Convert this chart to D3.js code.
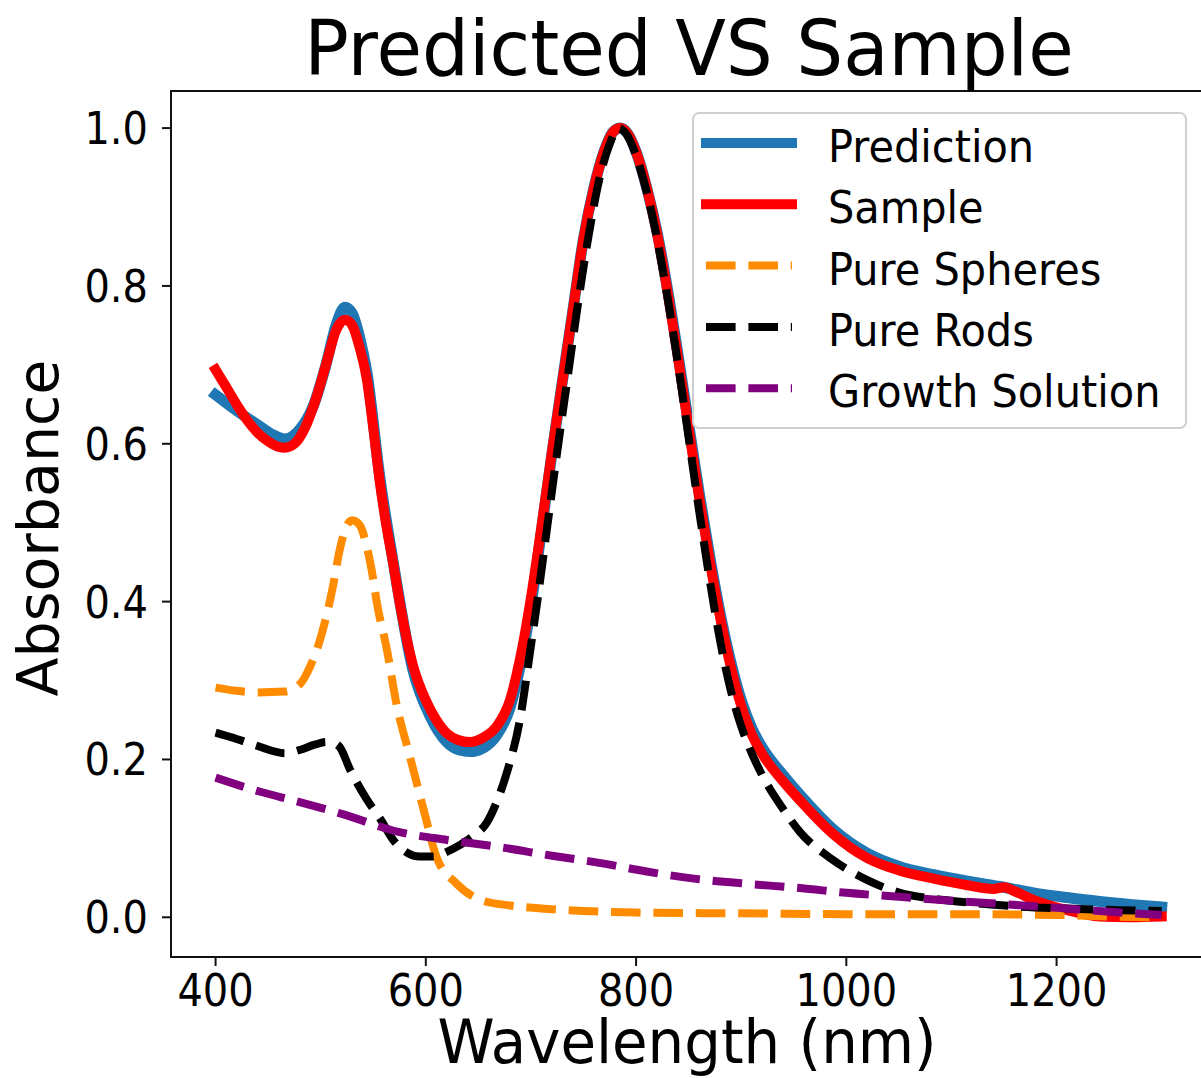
<!DOCTYPE html>
<html>
<head>
<meta charset="utf-8">
<script src="https://cdn.jsdelivr.net/npm/d3@7/dist/d3.min.js"></script>
<style>
  html, body { margin: 0; padding: 0; background: #fff; }
  svg { display: block; font-family: "DejaVu Sans", sans-serif; }
</style>
</head>
<body>
<svg id="chart" width="1201" height="1078"></svg>
<script>
// [wavelength nm, absorbance]
var prediction = [
  [400, 0.662], [420, 0.642], [440, 0.624], [455, 0.611], [466, 0.606], [480, 0.618],
  [493, 0.648], [505, 0.700], [515, 0.752], [523, 0.773], [530, 0.765], [537, 0.735],
  [544, 0.690], [556, 0.560], [569, 0.450], [588, 0.312], [604, 0.255], [620, 0.222],
  [632, 0.212], [642, 0.210], [655, 0.215], [668, 0.232], [680, 0.265], [690, 0.320],
  [700, 0.395], [710, 0.490], [720, 0.588], [730, 0.680], [740, 0.770], [750, 0.860],
  [760, 0.925], [770, 0.972], [778, 0.995], [785, 1.0], [792, 0.993], [800, 0.970],
  [810, 0.925], [820, 0.868], [830, 0.795], [840, 0.712], [850, 0.625], [860, 0.538],
  [870, 0.458], [880, 0.385], [890, 0.324], [900, 0.275], [910, 0.240], [920, 0.215],
  [940, 0.180], [956, 0.155], [987, 0.112], [1020, 0.081], [1051, 0.064], [1083, 0.054],
  [1114, 0.046], [1146, 0.039], [1178, 0.031], [1210, 0.025], [1241, 0.020], [1272, 0.016],
  [1300, 0.013]
];
var sample = [
  [400, 0.694], [410, 0.672], [420, 0.650], [430, 0.630], [440, 0.614], [450, 0.603],
  [460, 0.596], [466, 0.595], [475, 0.600], [485, 0.620], [495, 0.655], [505, 0.700],
  [515, 0.745], [523, 0.757], [530, 0.750], [537, 0.722], [544, 0.681], [550, 0.620],
  [556, 0.554], [562, 0.500], [569, 0.448], [575, 0.400], [588, 0.318], [600, 0.275],
  [610, 0.250], [620, 0.233], [630, 0.225], [642, 0.222], [655, 0.228], [668, 0.243],
  [680, 0.275], [690, 0.330], [700, 0.405], [710, 0.495], [720, 0.590], [730, 0.680],
  [740, 0.770], [750, 0.860], [760, 0.925], [770, 0.972], [778, 0.995], [785, 1.0],
  [792, 0.993], [800, 0.970], [810, 0.925], [820, 0.866], [830, 0.792], [840, 0.708],
  [850, 0.620], [860, 0.532], [870, 0.452], [880, 0.380], [890, 0.318], [900, 0.268],
  [910, 0.232], [920, 0.207], [940, 0.172], [956, 0.148], [987, 0.106], [1020, 0.075],
  [1051, 0.059], [1083, 0.049], [1114, 0.041], [1140, 0.036], [1150, 0.038], [1160, 0.033],
  [1178, 0.022], [1210, 0.009], [1241, 0.001], [1270, 0.0], [1300, 0.001]
];
var spheres = [
  [400, 0.291], [420, 0.287], [440, 0.285], [466, 0.286], [480, 0.295], [490, 0.318],
  [499, 0.350], [511, 0.415], [518, 0.465], [524, 0.494], [530, 0.503], [537, 0.497],
  [544, 0.469], [550, 0.428], [553, 0.402], [563, 0.339], [572, 0.271], [585, 0.203],
  [598, 0.136], [610, 0.077], [629, 0.043], [652, 0.022], [680, 0.015], [702, 0.012],
  [750, 0.008], [800, 0.006], [900, 0.005], [1000, 0.004], [1100, 0.004], [1200, 0.003],
  [1250, 0.001], [1300, 0.0]
];
var rods = [
  [400, 0.234], [420, 0.226], [440, 0.217], [466, 0.208], [480, 0.212], [495, 0.219],
  [505, 0.222], [512, 0.221], [518, 0.216], [528, 0.187], [544, 0.149], [557, 0.124],
  [569, 0.098], [582, 0.082], [594, 0.077], [607, 0.077], [620, 0.083], [633, 0.092],
  [645, 0.103], [658, 0.120], [668, 0.148], [677, 0.183], [690, 0.254], [699, 0.335],
  [706, 0.400], [715, 0.490], [725, 0.590], [735, 0.685], [745, 0.780], [755, 0.865],
  [765, 0.935], [775, 0.980], [783, 1.0], [792, 0.990], [800, 0.965], [810, 0.920],
  [820, 0.860], [830, 0.785], [840, 0.700], [850, 0.608], [860, 0.515], [870, 0.428],
  [880, 0.350], [890, 0.288], [900, 0.242], [910, 0.208], [920, 0.180], [940, 0.137],
  [956, 0.108], [987, 0.073], [1020, 0.047], [1051, 0.031], [1080, 0.024], [1114, 0.019],
  [1160, 0.014], [1210, 0.011], [1260, 0.009], [1300, 0.008]
];
var growth = [
  [400, 0.177], [440, 0.160], [480, 0.146], [520, 0.131], [575, 0.108], [620, 0.098],
  [670, 0.089], [720, 0.078], [765, 0.069], [810, 0.058], [861, 0.048], [910, 0.042],
  [956, 0.037], [1000, 0.031], [1050, 0.026], [1100, 0.021], [1146, 0.017], [1200, 0.012],
  [1250, 0.007], [1300, 0.003]
];
var xTicks = [400, 600, 800, 1000, 1200];
var yTicks = [0.0, 0.2, 0.4, 0.6, 0.8, 1.0];
var seriesNames = ['Prediction', 'Sample', 'Pure Spheres', 'Pure Rods', 'Growth Solution'];

(function () {
  'use strict';
  var svg = d3.select('#chart');
  var box = { left: 171, right: 1209, top: 91, bottom: 957 };

  var x = d3.scaleLinear().domain([357.6, 1345]).range([box.left, box.right]);
  var y = d3.scaleLinear().domain([-0.0503, 1.047]).range([box.bottom, box.top]);

  var dash = '29.6,12.8';
  var styles = [
    { data: prediction, color: '#1f77b4', width: 11, dash: null },
    { data: sample, color: '#ff0000', width: 10, dash: null },
    { data: spheres, color: '#ff8c00', width: 8, dash: dash },
    { data: rods, color: '#000000', width: 8, dash: dash },
    { data: growth, color: '#800080', width: 8, dash: dash }
  ];

  // text is a little taller than wide in the reference
  function stretchText(g, px, py, txt, size, k, anchor) {
    return g.append('text')
      .attr('transform', 'translate(' + px + ',' + py + ') scale(1,' + k + ')')
      .attr('text-anchor', anchor || 'middle')
      .attr('font-size', size)
      .attr('fill', '#000')
      .text(txt);
  }

  var line = d3.line()
    .x(function (d) { return x(d[0]); })
    .y(function (d) { return y(d[1]); })
    .curve(d3.curveMonotoneX);

  var plot = svg.append('g');
  styles.forEach(function (s) {
    plot.append('path')
      .attr('d', line(s.data))
      .attr('fill', 'none')
      .attr('stroke', s.color)
      .attr('stroke-width', s.width)
      .attr('stroke-linejoin', 'round')
      .attr('stroke-linecap', s.dash ? 'butt' : 'square')
      .attr('stroke-dasharray', s.dash);
  });

  // frame
  svg.append('rect')
    .attr('x', box.left).attr('y', box.top)
    .attr('width', box.right - box.left).attr('height', box.bottom - box.top)
    .attr('fill', 'none').attr('stroke', '#111').attr('stroke-width', 2);

  // y axis
  var yAxis = svg.append('g');
  yTicks.forEach(function (t) {
    yAxis.append('line')
      .attr('x1', box.left - 9).attr('x2', box.left)
      .attr('y1', y(t)).attr('y2', y(t))
      .attr('stroke', '#111').attr('stroke-width', 2);
    stretchText(yAxis, box.left - 23, y(t) + 16, d3.format('.1f')(t), 40, 1.1, 'end');
  });

  // x axis
  var xAxis = svg.append('g');
  xTicks.forEach(function (t) {
    xAxis.append('line')
      .attr('x1', x(t)).attr('x2', x(t))
      .attr('y1', box.bottom).attr('y2', box.bottom + 9)
      .attr('stroke', '#111').attr('stroke-width', 2);
    stretchText(xAxis, x(t), 1006, String(t), 40, 1.1);
  });

  stretchText(svg, 687, 1063, 'Wavelength (nm)', 57.8, 1.05);
  svg.append('text')
    .attr('transform', 'translate(58,' + ((box.top + box.bottom) / 2 + 4) + ') rotate(-90)')
    .attr('text-anchor', 'middle')
    .attr('font-size', 57)
    .text('Absorbance');
  stretchText(svg, 689, 75, 'Predicted VS Sample', 74, 1.03);

  // legend
  var legend = svg.append('g');
  legend.append('rect')
    .attr('x', 693).attr('y', 113).attr('width', 493).attr('height', 315)
    .attr('rx', 6)
    .attr('fill', '#fff').attr('fill-opacity', 0.8)
    .attr('stroke', '#d0d0d0').attr('stroke-width', 2);
  styles.forEach(function (s, i) {
    var ly = 143 + i * 61.3;
    legend.append('line')
      .attr('x1', 706).attr('x2', 792)
      .attr('y1', ly).attr('y2', ly)
      .attr('stroke', s.color)
      .attr('stroke-width', s.dash ? 8 : 10)
      .attr('stroke-linecap', s.dash ? 'butt' : 'square')
      .attr('stroke-dasharray', s.dash);
    stretchText(legend, 828, ly + 19, seriesNames[i], 41.5, 1.05, 'start');
  });
}());
</script>
</body>
</html>
